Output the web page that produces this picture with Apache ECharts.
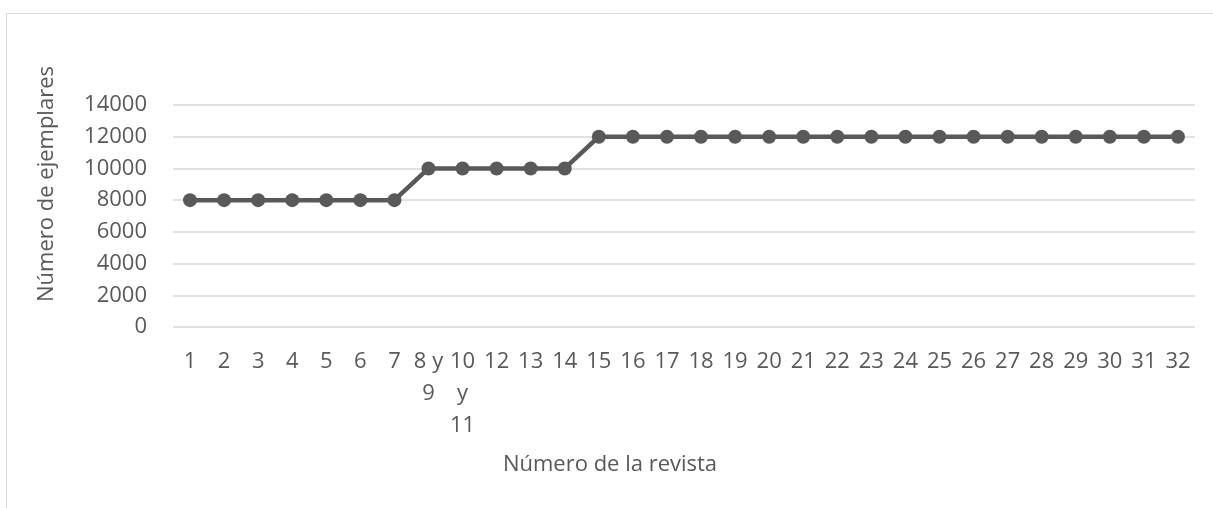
<!DOCTYPE html>
<html>
<head>
<meta charset="utf-8">
<script src="https://cdn.jsdelivr.net/npm/echarts@6/dist/echarts.min.js"></script>
<style>
  html, body { margin: 0; padding: 0; background: #fff; }
  #chart { width: 1213px; height: 508px; }
</style>
</head>
<body>
<div id="chart"></div>
<script>
// revistas (categorias del eje X)
const revistas = ['1', '2', '3', '4', '5', '6', '7', '8 y\n9', '10\ny\n11', '12', '13', '14',
  '15', '16', '17', '18', '19', '20', '21', '22', '23', '24', '25', '26', '27', '28', '29', '30', '31', '32'];
// numero de ejemplares por revista
const ejemplares = [8000, 8000, 8000, 8000, 8000, 8000, 8000, 10000, 10000, 10000, 10000, 10000,
  12000, 12000, 12000, 12000, 12000, 12000, 12000, 12000, 12000, 12000, 12000, 12000, 12000, 12000, 12000, 12000, 12000, 12000];
const yMin = 0, yMax = 14000, yStep = 2000;

const gris = '#595959';
const fuente = 'Open Sans';

let chart = echarts.init(document.getElementById('chart'));
chart.setOption({
  animation: false,
  grid: { left: 173, right: 18, top: 105, bottom: 181 },
  graphic: [
    {
      type: 'rect',
      shape: { x: 6.5, y: 13.5, width: 1220, height: 520 },
      style: { fill: 'none', stroke: '#d9d9d9', lineWidth: 1 }
    },
    {
      type: 'text',
      x: 47, y: 184, rotation: Math.PI / 2,
      style: { text: 'Número de ejemplares', font: '22px "Open Sans"', fill: gris, align: 'center', verticalAlign: 'middle' }
    },
    {
      type: 'text',
      x: 610, y: 465,
      style: { text: 'Número de la revista', font: '22px "Open Sans"', fill: gris, align: 'center', verticalAlign: 'middle' }
    }
  ],
  xAxis: {
    type: 'category',
    data: revistas,
    boundaryGap: true,
    axisLine: { show: false },
    axisTick: { show: false },
    axisLabel: {
      interval: 0, color: gris, fontFamily: fuente, fontSize: 22,
      lineHeight: 32, margin: 19, verticalAlign: 'top'
    }
  },
  yAxis: {
    type: 'value',
    min: yMin, max: yMax, interval: yStep,
    axisLine: { show: false },
    axisTick: { show: false },
    splitLine: { lineStyle: { color: '#d9d9d9', width: 1.5 } },
    axisLabel: {
      color: gris, fontFamily: fuente, fontSize: 22, margin: 26,
      formatter: v => String(v)
    }
  },
  series: [
    {
      name: 'Ejemplares',
      type: 'line',
      data: ejemplares,
      symbol: 'circle',
      symbolSize: 14,
      itemStyle: { color: gris },
      lineStyle: { color: gris, width: 4.5 }
    }
  ]
});
</script>
</body>
</html>
